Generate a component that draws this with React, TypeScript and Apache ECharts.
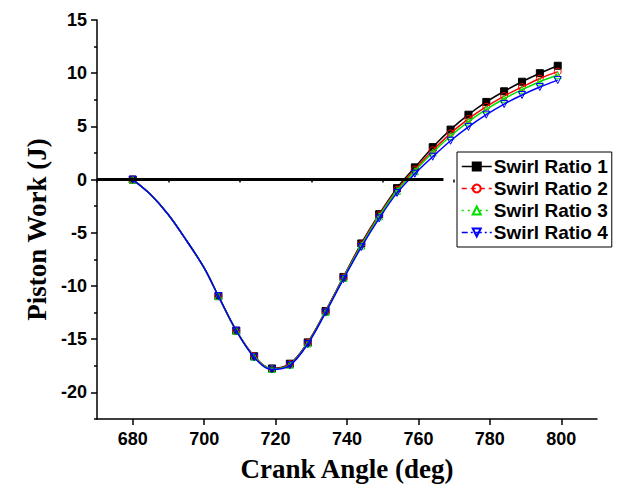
import React, { useEffect, useRef } from "react";
import * as echarts from "echarts";

// Crank angle (deg) of each sample; the 685–700 samples carry no marker in the reference
const angles = [680, 685, 690, 695, 700, 704, 709, 714, 719, 724, 729, 734, 739, 744, 749, 754, 759, 764, 769, 774, 779, 784, 789, 794, 799];
const unmarkedAngles = [685, 690, 695, 700];

const seriesNames = ["Swirl Ratio 1", "Swirl Ratio 2", "Swirl Ratio 3", "Swirl Ratio 4"];
const sr1 = [0, -1.4, -3.3, -5.7, -8.3, -10.95, -14.2, -16.6, -17.75, -17.3, -15.3, -12.35, -9.15, -6.0, -3.25, -0.8, 1.15, 3.05, 4.7, 6.1, 7.3, 8.3, 9.2, 10.0, 10.7];
const sr2 = [0, -1.4, -3.3, -5.7, -8.3, -10.95, -14.2, -16.6, -17.8, -17.35, -15.35, -12.4, -9.2, -6.1, -3.35, -0.95, 0.95, 2.75, 4.35, 5.7, 6.85, 7.85, 8.7, 9.5, 10.15];
const sr3 = [0, -1.4, -3.3, -5.7, -8.3, -10.95, -14.2, -16.65, -17.8, -17.4, -15.4, -12.45, -9.25, -6.2, -3.45, -1.05, 0.8, 2.55, 4.1, 5.45, 6.6, 7.6, 8.45, 9.2, 9.8];
const sr4 = [0, -1.4, -3.3, -5.7, -8.3, -10.95, -14.2, -16.7, -17.85, -17.45, -15.45, -12.5, -9.35, -6.35, -3.65, -1.25, 0.55, 2.15, 3.65, 4.95, 6.1, 7.1, 7.95, 8.7, 9.35];

// Horizontal reference line at zero work
const zeroLineX = [670, 767];
const zeroLineY = [0, 0];

// Axis ticks
const xMajorTicks = [680, 700, 720, 740, 760, 780, 800];
const xMinorTicks = [670, 690, 710, 730, 750, 770, 790, 810];
const yMajorTicks = [-20, -15, -10, -5, 0, 5, 10, 15];
const yMinorTicks = [-22.5, -17.5, -12.5, -7.5, -2.5, 2.5, 7.5, 12.5];

const colors = ["#000000", "#ff0000", "#00e000", "#0000ff"];
const symbols = ["rect", "circle", "triangle", "triangle"];
const rotations = [0, 0, 0, 180];
const legendDash: any[] = ["solid", [5, 4], [2, 4], [6, 3, 2, 3]];

export default function App() {
  const ref = useRef<HTMLDivElement>(null);
  useEffect(() => {
    if (!ref.current) return;
    const chart = echarts.init(ref.current, undefined, { renderer: "svg" });
    const all = [sr1, sr2, sr3, sr4];
    const series: any[] = all.map((vals, i) => ({
      name: seriesNames[i],
      type: "line",
      xAxisIndex: 0,
      yAxisIndex: 0,
      smooth: 0.35,
      symbol: symbols[i],
      symbolRotate: rotations[i],
      symbolSize: 7,
      lineStyle: { color: colors[i], width: 1.5, type: "solid" },
      itemStyle: {
        color: i === 0 ? colors[i] : "rgba(255,255,255,0)",
        borderColor: colors[i],
        borderWidth: 1,
      },
      data: angles.map((a, k) =>
        unmarkedAngles.includes(a)
          ? { value: [a, vals[k]], symbol: "none" }
          : { value: [a, vals[k]] }
      ),
      z: 3 + i,
    }));
    series.push({
      name: "zero",
      type: "line",
      symbol: "none",
      lineStyle: { color: "#000", width: 3 },
      data: zeroLineX.map((x, k) => [x, zeroLineY[k]]),
      z: 10,
    });

    const axisFont = {
      color: "#000",
      fontFamily: "Liberation Sans",
      fontWeight: "bold" as const,
      fontSize: 18,
    };
    const nameFont = {
      color: "#000",
      fontFamily: "Liberation Serif",
      fontWeight: "bold" as const,
      fontSize: 27,
    };

    chart.setOption({
      animation: false,
      backgroundColor: "#fff",
      grid: { left: 97, right: 38, top: 20, bottom: 70 },
      legend: {
        orient: "vertical",
        left: 457,
        top: 152,
        padding: [5, 4, 5, 4],
        itemGap: 3,
        itemWidth: 30,
        itemHeight: 10,
        borderColor: "#000",
        borderWidth: 1,
        backgroundColor: "#fff",
        symbolRotate: "inherit",
        textStyle: { ...axisFont, fontSize: 19, padding: [0, 0, 0, -3] },
        data: seriesNames.map((n, i) => ({
          name: n,
          lineStyle: { type: legendDash[i], width: 1.5 },
        })),
      },
      xAxis: [
        {
          type: "value",
          min: 670,
          max: 810,
          name: "Crank Angle (deg)",
          nameLocation: "middle",
          nameGap: 36,
          nameTextStyle: nameFont,
          splitLine: { show: false },
          axisLine: { onZero: false, lineStyle: { color: "#000", width: 1.5 } },
          axisTick: { show: true, inside: false, length: 6, lineStyle: { color: "#000", width: 1.5 }, customValues: xMajorTicks },
          axisLabel: { ...axisFont, margin: 11, customValues: xMajorTicks },
        },
        {
          type: "value",
          min: 670,
          max: 810,
          position: "bottom",
          splitLine: { show: false },
          axisLine: { show: false },
          axisTick: { show: true, inside: false, length: 3, lineStyle: { color: "#000", width: 1.5 }, customValues: xMinorTicks },
          axisLabel: { show: false },
        },
      ],
      yAxis: [
        {
          type: "value",
          min: -22.5,
          max: 15,
          name: "Piston Work (J)",
          nameLocation: "middle",
          nameGap: 42,
          nameTextStyle: { ...nameFont, padding: [0, 0, 0, -20] },
          splitLine: { show: false },
          axisLine: { onZero: false, lineStyle: { color: "#000", width: 1.5 } },
          axisTick: { show: true, inside: false, length: 6, lineStyle: { color: "#000", width: 1.5 }, customValues: yMajorTicks },
          axisLabel: { ...axisFont, margin: 10, customValues: yMajorTicks },
        },
        {
          type: "value",
          min: -22.5,
          max: 15,
          position: "left",
          splitLine: { show: false },
          axisLine: { show: false },
          axisTick: { show: true, inside: false, length: 3, lineStyle: { color: "#000", width: 1.5 }, customValues: yMinorTicks },
          axisLabel: { show: false },
        },
      ],
      series,
    });
    return () => chart.dispose();
  }, []);
  return (
    <div
      ref={ref}
      style={{ position: "fixed", left: 0, top: 0, width: 635, height: 489, background: "#fff" }}
    />
  );
}
